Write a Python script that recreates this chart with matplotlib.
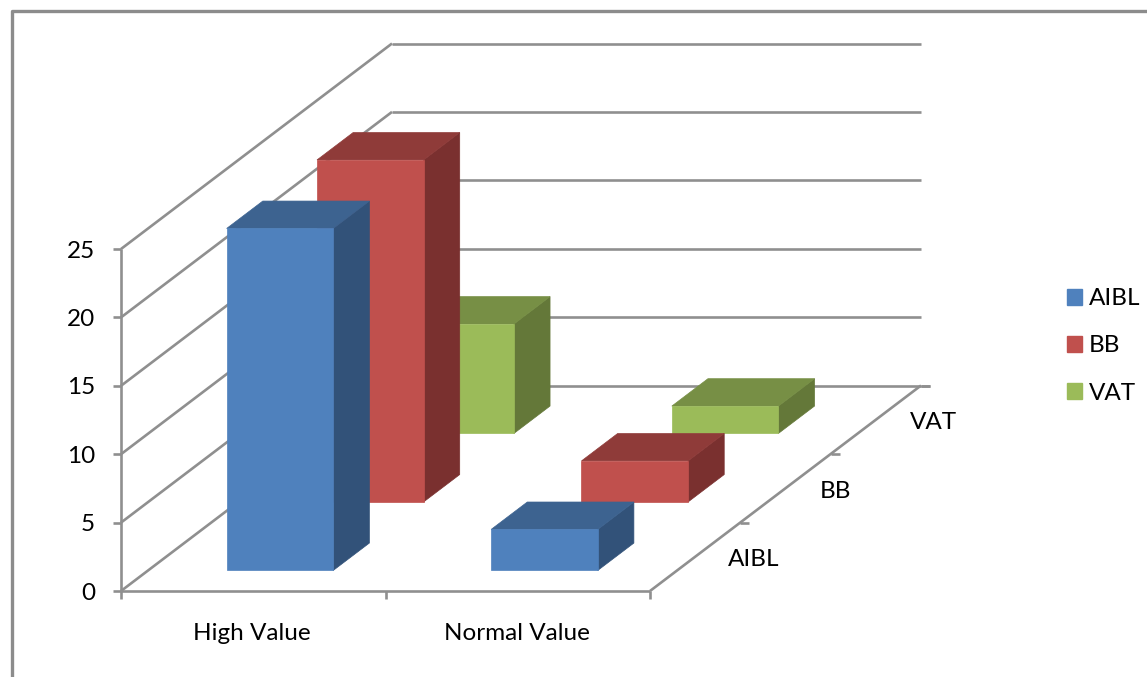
import matplotlib
matplotlib.use("Agg")
import matplotlib.pyplot as plt
from matplotlib.patches import Patch, Polygon

categories = ["High Value", "Normal Value"]
series_names = ["AIBL", "BB", "VAT"]
aibl_values = [25, 3]
bb_values = [25, 3]
vat_values = [8, 2]
value_ticks = [0, 5, 10, 15, 20, 25]

FRONT_COLORS = ["#4F81BD", "#C0504D", "#9BBB59"]
TOP_COLORS = ["#3D6390", "#8F3B39", "#778F45"]
SIDE_COLORS = ["#325279", "#7A302F", "#647839"]
GRID = "#8F8F8F"

plt.rcParams["font.family"] = ["Lato", "DejaVu Sans"]
FONT_SIZE = 17.5

# Oblique projection of the 3D box: category, series depth and value to canvas pixels.
ORIGIN = (121.0, 591.0)
CATEGORY_PX = 264.5
DEPTH_DX, DEPTH_DY = 271.0, -205.5
VALUE_PX = 13.68


def project(cat, depth, value):
    x = ORIGIN[0] + cat * CATEGORY_PX + depth * DEPTH_DX
    y = ORIGIN[1] + depth * DEPTH_DY - value * VALUE_PX
    return (x, y)


fig = plt.figure(figsize=(11.47, 6.77), dpi=100)
ax = fig.add_axes([0, 0, 1, 1])
ax.set_xlim(0, 1147)
ax.set_ylim(677, 0)
ax.axis("off")


def line(p, q, lw=1.9, color=GRID, z=1):
    ax.plot([p[0], q[0]], [p[1], q[1]], color=color, lw=lw, zorder=z,
            solid_capstyle="butt")


# Outer chart border, running off the right and bottom of the canvas
ax.plot([11.5, 11.5, 1147], [677, 10.5, 10.5], color="#8C8C8C", lw=2.4, zorder=1)

n_cat = len(categories)
n_ser = len(series_names)
top_value = value_ticks[-1]

# Walls and gridlines
for v in value_ticks:
    line(project(0, 0, v), project(0, 1, v))
    line(project(0, 1, v), project(n_cat, 1, v))
    tick_at = project(0, 0, v)
    line((tick_at[0] - 8, tick_at[1]), tick_at)
    ax.text(tick_at[0] - 26, tick_at[1] + 2, str(v), ha="right", va="center",
            fontsize=FONT_SIZE, color="black")
line(project(0, 0, 0), project(0, 0, top_value))

# Floor edges and ticks
line(project(0, 0, 0), project(n_cat, 0, 0))
line(project(n_cat, 0, 0), project(n_cat, 1, 0))
back_right = project(n_cat, 1, 0)
line(back_right, (back_right[0] + 9, back_right[1]))
for c in range(n_cat + 1):
    p = project(c, 0, 0)
    line(p, (p[0], p[1] + 8))
for s in range(1, n_ser + 1):
    p = project(n_cat, s / n_ser, 0)
    line(p, (p[0] + 9, p[1]))

# Category and series labels
for c, name in enumerate(categories):
    p = project(c + 0.5, 0, 0)
    ax.text(p[0] - 1, p[1] + 43, name, ha="center", va="center",
            fontsize=FONT_SIZE, color="black")
label_offsets = [59, 50, 58]
for s, name in enumerate(series_names):
    p = project(n_cat, (s + 0.5) / n_ser, 0)
    ax.text(p[0] + label_offsets[s], p[1] + 3, name, ha="center", va="center",
            fontsize=FONT_SIZE, color="black")

# Bars, painted from the back row forward
GAP_X = 0.297
BAR_X = 0.403
GAP_D = 0.3
BAR_D = 0.4
all_values = [aibl_values, bb_values, vat_values]
for s in reversed(range(n_ser)):
    for c in range(n_cat):
        v = all_values[s][c]
        x0, x1 = c + GAP_X, c + GAP_X + BAR_X
        d0, d1 = (s + GAP_D) / n_ser, (s + GAP_D + BAR_D) / n_ser
        z = 3 + (n_ser - s)
        front = [project(x0, d0, 0), project(x1, d0, 0), project(x1, d0, v), project(x0, d0, v)]
        top = [project(x0, d0, v), project(x1, d0, v), project(x1, d1, v), project(x0, d1, v)]
        side = [project(x1, d0, 0), project(x1, d1, 0), project(x1, d1, v), project(x1, d0, v)]
        for pts, col in ((side, SIDE_COLORS[s]), (top, TOP_COLORS[s]), (front, FRONT_COLORS[s])):
            ax.add_patch(Polygon(pts, closed=True, facecolor=col, edgecolor=col,
                                 lw=0.5, zorder=z))

# Legend
handles = [Patch(facecolor=col, edgecolor=col, label=name)
           for col, name in zip(FRONT_COLORS, series_names)]
ax.legend(handles=handles, loc="center left", bbox_to_anchor=(1060, 346),
          bbox_transform=ax.transData, frameon=False, fontsize=FONT_SIZE,
          handlelength=0.62, handleheight=0.62, handletextpad=0.29,
          labelspacing=1.08, borderpad=0, borderaxespad=0.28)

fig.savefig("out.png", dpi=100, facecolor="white")
